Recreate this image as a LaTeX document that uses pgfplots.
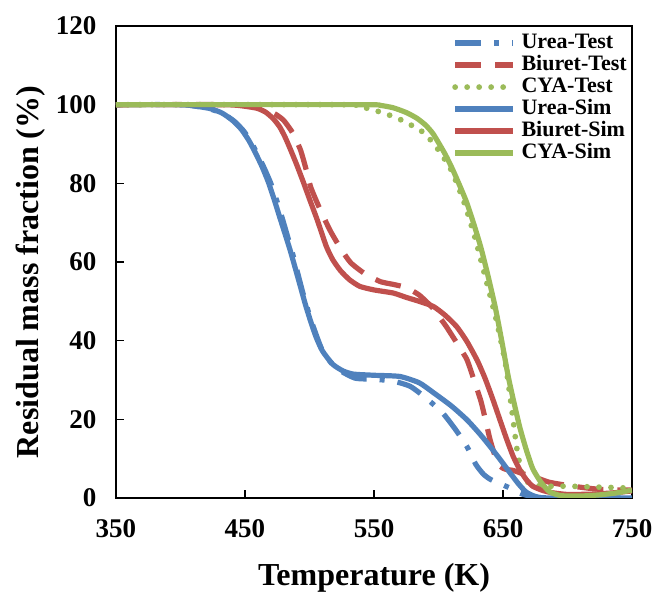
\documentclass[border=0pt]{standalone}
\usepackage{fontspec}
\setmainfont{Liberation Serif}
\usepackage{pgfplots}
\usepackage{pgfplotstable}
\pgfplotsset{compat=1.18}
\definecolor{cblue}{RGB}{79,129,189}
\definecolor{cred}{RGB}{192,80,77}
\definecolor{cgreen}{RGB}{155,187,89}

\pgfplotstableread{
T v
350 100
400 100
412 99.6
425 98.7
434 97.5
442 95.7
449 93.3
455 90.3
460 87.2
465 83.8
470 80
475 75.2
479 71
483 66.5
487 62
491 57
495 52
499 47.5
503 43.5
510 37.5
520 33.2
535 30.5
550 30.2
565 29.7
578 28.4
590 25.5
603 21.7
613 17.5
622 13.1
629 8.5
635 6
641 4.6
655 2.6
665 1
675 0.2
690 0
750 0
}\ureatest

\pgfplotstableread{
T v
350 100
440 100
455 99.6
467 98.6
474 97.5
480 96
487 92.8
493 88.5
497 84
501 79
508 73.5
516 68
524 63.5
532 59.8
543 57
555 55
565 54.3
575 53.5
585 51.6
595 48.5
600 46.3
606 43.6
614 39.5
622 35.2
628 29.5
633 24.5
637 19
640 14.8
644 10.5
648 8
652 7.3
658 7
665 6.2
673 5.5
686 4
704 3
725 2.2
750 2
}\biurettest

\pgfplotstableread{
T v
350 100
525 100
537 99.6
547 98.9
557 97.9
568 96.6
580 94.6
588 93
595 90.6
601 88
606 85.5
611 82.6
620 75
628 66.5
636 56.5
645 45
652 34
657 22
661 12
665 6
670 3.8
680 3
700 3
720 2.8
750 2.5
}\cyatest

\pgfplotstableread{
T v
350 100
400 100
410 99.7
423 99
432 97.9
440 96.1
447 93.8
453 90.9
458 87.8
463 84.4
468 80.4
473 75.5
477 71.3
481 67.2
485 63
489 58.4
493 53.7
497 49
501 44.8
505 41
510 37.4
518 34
526 32.3
534 31.5
550 31.2
570 30.9
585 29.3
596 26.8
610 23.4
622 19.9
632 16.3
640 13.1
648 9.7
655 6.6
662 3.6
668 1.5
675 0.4
685 0
750 0
}\ureasim

\pgfplotstableread{
T v
350 100
430 100
445 99.8
459 99.1
466 98.1
472 96.4
477 94.3
481 91.8
485 88.8
490 84.8
495 80.5
500 76
506 70.7
513 64
518 60.6
524 57.8
531 55.5
539 53.8
550 52.9
565 52.1
575 51
585 50
596 48.7
605 46.5
614 43.6
622 39.8
630 35
636 30.5
642 25.2
648 19.5
653 14.8
658 10.5
663 7.2
668 4.7
673 3
680 2
687 1.4
700 0.9
720 1
735 1.3
750 1.8
}\biuretsim

\pgfplotstableread{
T v
350 100
540 100
555 99.8
565 99.2
575 98
583 96.6
590 94.8
596 92.5
605 87.5
611 83.5
617 79
622 75
628 69
633 63.5
638 57
644 48.5
649 40
654 31
658 25
663 18
668 12.3
673 7.5
679 4.2
686 1.6
695 0.6
710 0.5
725 0.8
738 1.3
750 2
}\cyasim

\begin{document}
\begin{tikzpicture}
\begin{axis}[
  scale only axis, width=516pt, height=472pt,
  xmin=350, xmax=750, ymin=0, ymax=120,
  xtick={350,450,...,750}, ytick={0,20,...,120},
  tick align=inside, tick pos=left, major tick length=8pt,
  axis line style={line width=1.3pt},
  every tick/.style={black, line width=1.3pt},
  ticklabel style={font=\fontsize{27}{27}\selectfont\bfseries},
  /pgf/number format/assume math mode=true,
  /pgf/number format/1000 sep={},
  xticklabel style={yshift=-18pt},
  yticklabel style={xshift=-16pt},
  xlabel={Temperature (K)},
  ylabel={Residual mass fraction (\%)},
  every axis x label/.style={at={(axis description cs:0.5,0)}, anchor=center, yshift=-80pt, font=\fontsize{32}{32}\selectfont\bfseries},
  every axis y label/.style={at={([xshift=-85pt,yshift=-10pt]axis description cs:0,0.5)}, anchor=center, rotate=90, font=\fontsize{32}{32}\selectfont\bfseries},
  legend style={at={(axis cs:610.5,118.5)}, anchor=north west, draw=none, fill=none, inner sep=0pt,
    font=\fontsize{22}{22}\selectfont\bfseries, row sep=0pt, column sep=4pt,
    nodes={inner sep=1.5pt, text height=15pt, text depth=4pt}},
  legend cell align=left,
  legend image code/.code={\draw[#1] (0pt,0pt) -- (58pt,0pt);},
  every axis plot/.append style={line width=5.2pt, smooth, tension=0.35},
]
\addplot[cblue, dash pattern=on 26pt off 13pt on 5pt off 13pt] table {\ureatest};
\addlegendentry{Urea-Test}
\addplot[cred, dash pattern=on 26pt off 14pt] table {\biurettest};
\addlegendentry{Biuret-Test}
\addplot[cgreen, line cap=round, line width=5.8pt, dash pattern=on 0pt off 12pt] table {\cyatest};
\addlegendentry{CYA-Test}
\addplot[cblue] table {\ureasim};
\addlegendentry{Urea-Sim}
\addplot[cred] table {\biuretsim};
\addlegendentry{Biuret-Sim}
\addplot[cgreen] table {\cyasim};
\addlegendentry{CYA-Sim}
\coordinate (SW) at (rel axis cs:0,0);
\coordinate (NE) at (rel axis cs:1,1);
\end{axis}
\pgfresetboundingbox
\path ([shift={(-116pt,-95pt)}]SW) rectangle ([shift={(24pt,26pt)}]NE);
\end{tikzpicture}
\end{document}
